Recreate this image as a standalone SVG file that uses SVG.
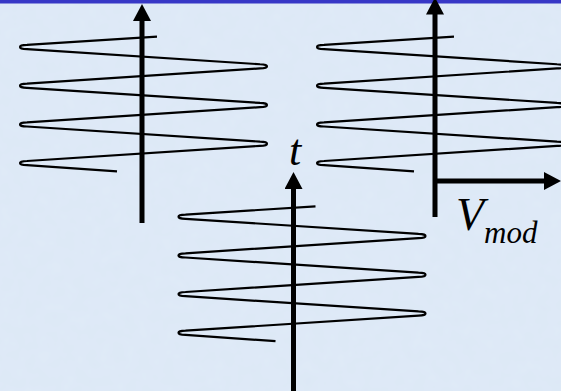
<svg xmlns="http://www.w3.org/2000/svg" xmlns:xlink="http://www.w3.org/1999/xlink" width="561" height="391" viewBox="0 0 561 391">
  <style>
    .spiral { fill: none; stroke: #000; stroke-width: 2.2; stroke-linejoin: round; }
    .axis { fill: none; stroke: #000; stroke-width: 5; marker-end: url(#head); }
    .lbl { font-family: "Liberation Serif", "Times New Roman", serif; font-style: italic; fill: #000; }
  </style>
  <defs>
    <marker id="head" markerUnits="userSpaceOnUse" markerWidth="18" markerHeight="18" refX="0.5" refY="9" orient="auto" viewBox="0 0 18 18">
      <path d="M0,0 L17,9 L0,18 Z" fill="#000"/>
    </marker>
    <path id="coil" d="M157,36.65 L27,44.9 C17.67,44.9 17.67,49.1 27,49.1 L260,64.25 C269.33,64.25 269.33,68.45 260,68.45 L27,83.6 C17.67,83.6 17.67,87.8 27,87.8 L260,102.95 C269.33,102.95 269.33,107.15 260,107.15 L27,122.3 C17.67,122.3 17.67,126.5 27,126.5 L260,141.65 C269.33,141.65 269.33,145.85 260,145.85 L27,161 C17.67,161 17.67,165.2 27,165.2 L117,171.44"/>
    <filter id="grain" x="0" y="0" width="100%" height="100%">
      <feTurbulence type="fractalNoise" baseFrequency="0.08" numOctaves="2" seed="3" result="n"/>
      <feColorMatrix in="n" type="matrix" values="0 0 0 0 0.82  0 0 0 0 0.88  0 0 0 0 0.96  0 0 0 0.25 0"/>
    </filter>
  </defs>
  <rect id="background" x="0" y="0" width="561" height="391" fill="#dce8f6"/>
  <rect x="0" y="0" width="561" height="391" filter="url(#grain)"/>
  <rect id="topbar" x="0" y="0" width="561" height="3.5" fill="#3737c6"/>

  <g id="coil1">
    <use xlink:href="#coil" href="#coil" class="spiral"/>
  </g>
  <g id="coil2">
    <use xlink:href="#coil" href="#coil" class="spiral" transform="translate(297,0)"/>
  </g>
  <g id="coil3">
    <use xlink:href="#coil" href="#coil" class="spiral" transform="translate(158.5,169.7)"/>
  </g>

  <g id="connectors">
    <path class="axis" d="M142,223 V20.5"/>
    <path class="axis" d="M435,217 V14"/>
    <path class="axis" d="M433,181 H544.5"/>
    <path class="axis" d="M293.5,391 V188.5"/>
  </g>

  <g id="label-t">
    <text class="lbl" x="289" y="165" font-size="44">t</text>
  </g>
  <g id="label-vmod">
    <text class="lbl" x="456" y="230" font-size="46">V<tspan font-size="31" x="484" y="243">mod</tspan></text>
  </g>
</svg>
